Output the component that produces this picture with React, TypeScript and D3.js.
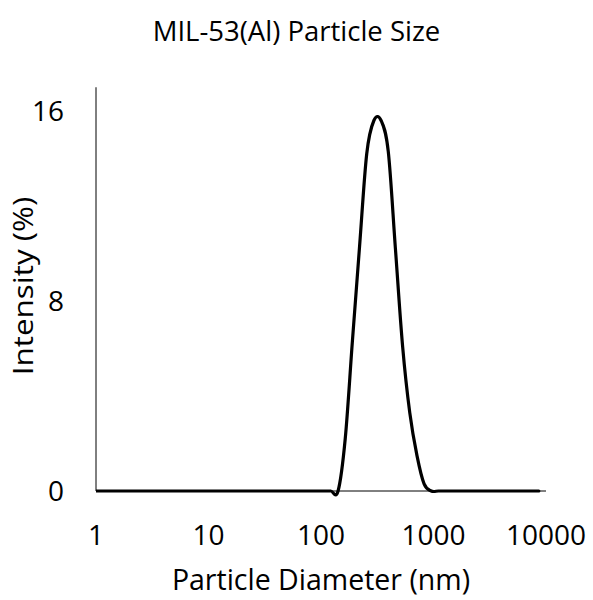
import React from "react";
import * as d3 from "d3";

const title = "MIL-53(Al) Particle Size";
const xTitle = "Particle Diameter (nm)";
const yTitle = "Intensity (%)";

// Size bins (nm)
const sizes = [
  0.9649, 1.117, 1.294, 1.499, 1.736, 2.01, 2.328, 2.696, 3.122, 3.615, 4.187, 4.849,
  5.615, 6.503, 7.531, 8.721, 10.1, 11.7, 13.54, 15.69, 18.17, 21.04, 24.36, 28.21,
  32.67, 37.84, 43.82, 50.75, 58.77, 68.06, 78.82, 91.28, 105.7, 122.4, 141.8, 164.2,
  190.1, 220.2, 255, 295.3, 342, 396.1, 458.7, 531.2, 615.1, 712.4, 825, 955.4, 1106,
  1281, 1484, 1718, 1990, 2305, 2669, 3091, 3580, 4145, 4801, 5560, 6439, 7456, 8635,
];
// Intensity (%)
const intensity = [
  0, 0, 0, 0, 0, 0, 0, 0, 0, 0, 0, 0,
  0, 0, 0, 0, 0, 0, 0, 0, 0, 0, 0, 0,
  0, 0, 0, 0, 0, 0, 0, 0, 0, 0, 0, 2.2,
  6.3, 10.3, 14.2, 15.6, 15.6, 14.3, 10.2, 6.1, 3.3, 1.5, 0.3, 0, 0,
  0, 0, 0, 0, 0, 0, 0, 0, 0, 0, 0, 0, 0, 0,
];
const xTicks = [1, 10, 100, 1000, 10000];
const xTickLabels = ["1", "10", "100", "1000", "10000"];
const yTicks = [0, 8, 16];

const W = 593;
const H = 600;
const FONT = "'Open Sans', sans-serif";

export default function App() {
  const x = d3.scaleLog().domain([1, 10000]).range([96, 546]);
  const y = d3.scaleLinear().domain([0, 17]).range([491, 87.25]);
  const pts: [number, number][] = sizes.map((s, i) => [s, intensity[i]]);
  const line = d3
    .line<[number, number]>()
    .x((d) => x(d[0]))
    .y((d) => y(d[1]))
    .curve(d3.curveCardinal.tension(0));

  return (
    <svg
      width={W}
      height={H}
      style={{ position: "absolute", left: 0, top: 0, background: "#fff" }}
    >
      <defs>
        <clipPath id="plotclip">
          <rect x={96} y={60} width={460} height={440} />
        </clipPath>
      </defs>
      <rect x={0} y={0} width={W} height={H} fill="#fff" />
      <text
        x={W / 2}
        y={41}
        textAnchor="middle"
        fontFamily={FONT}
        fontSize={27.5}
        fill="#000"
      >
        {title}
      </text>
      {/* axes */}
      <line x1={x(1)} x2={x(1)} y1={y(17)} y2={y(0)} stroke="#000" strokeWidth={1} />
      <line x1={x(1)} x2={x(10000)} y1={y(0)} y2={y(0)} stroke="#000" strokeWidth={1} />
      {/* data */}
      <path
        d={line(pts) || ""}
        fill="none"
        stroke="#000"
        strokeWidth={3.2}
        strokeLinejoin="round"
        strokeLinecap="round"
        clipPath="url(#plotclip)"
      />
      {/* y tick labels */}
      {yTicks.map((t) => (
        <text
          key={t}
          x={64}
          y={y(t)}
          dy="0.36em"
          textAnchor="end"
          fontFamily={FONT}
          fontSize={28}
          fill="#000"
        >
          {t}
        </text>
      ))}
      {/* x tick labels */}
      {xTicks.map((t, i) => (
        <text
          key={t}
          x={x(t)}
          y={545}
          textAnchor="middle"
          fontFamily={FONT}
          fontSize={28}
          fill="#000"
        >
          {xTickLabels[i]}
        </text>
      ))}
      <text
        x={(x(1) + x(10000)) / 2}
        y={590}
        textAnchor="middle"
        fontFamily={FONT}
        fontSize={28.5}
        fill="#000"
      >
        {xTitle}
      </text>
      <text
        transform={`translate(33, 286) rotate(-90) scale(1.12, 1)`}
        textAnchor="middle"
        fontFamily={FONT}
        fontSize={28}
        fill="#000"
      >
        {yTitle}
      </text>
    </svg>
  );
}
